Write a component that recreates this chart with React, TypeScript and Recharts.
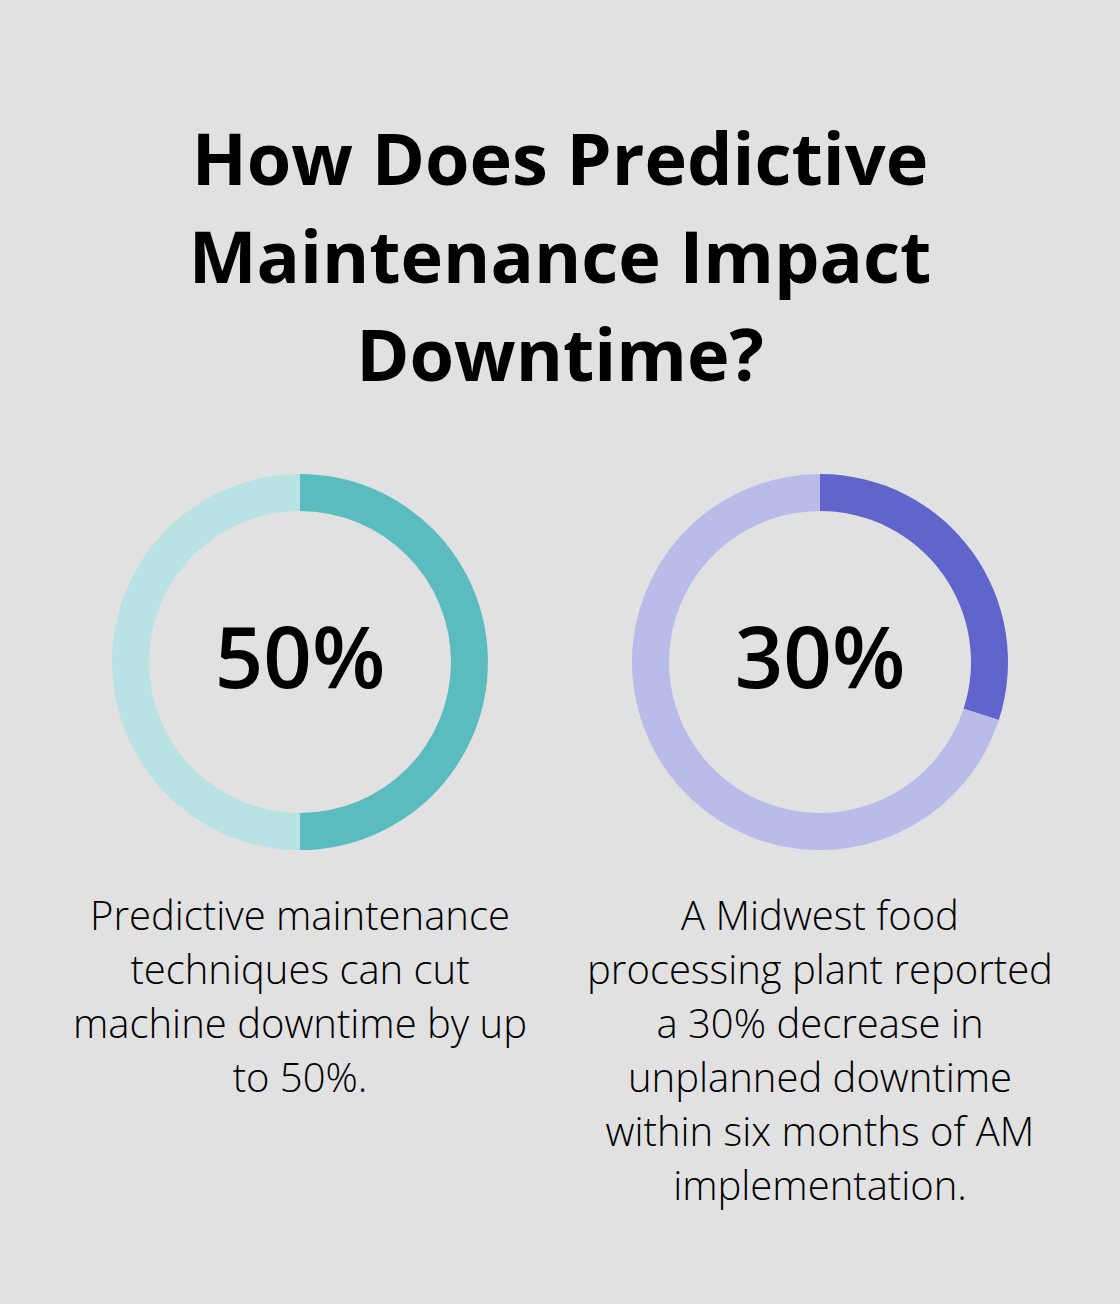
import React from 'react';
import { PieChart, Pie, Cell } from 'recharts';

const stats = ['50%', '30%'];
const reduced = [50, 30];
const remaining = [50, 70];
const darkColors = ['#5bbcbf', '#6065cc'];
const lightColors = ['#b8e2e4', '#b9bce9'];
const titleLines = ['How Does Predictive', 'Maintenance Impact', 'Downtime?'];
const captions = [
  ['Predictive maintenance', 'techniques can cut', 'machine downtime by up', 'to 50%.'],
  ['A Midwest food', 'processing plant reported', 'a 30% decrease in', 'unplanned downtime', 'within six months of AM', 'implementation.'],
];
const centersX = [300, 820];

const font = '"Open Sans", sans-serif';
const chartTop = 462;
const cy = 200;

const App: React.FC = () => {
  return (
    <div style={{ position: 'absolute', left: 0, top: 0, width: 1120, height: 1304, background: '#e0e1e0', fontFamily: font, color: '#000' }}>
      <div style={{ position: 'absolute', top: 108, left: 0, width: 1120, textAlign: 'center', fontWeight: 700, fontSize: 72, lineHeight: '98px' }}>
        {titleLines.map((l) => (
          <div key={l} style={{ whiteSpace: 'nowrap' }}>{l}</div>
        ))}
      </div>

      <div style={{ position: 'absolute', top: chartTop, left: 0 }}>
        <PieChart width={1120} height={400} margin={{ top: 0, right: 0, bottom: 0, left: 0 }}>
          {stats.map((s, i) => (
            <Pie
              key={s}
              data={[
                { name: 'reduced', value: reduced[i] },
                { name: 'rest', value: remaining[i] },
              ]}
              dataKey="value"
              cx={centersX[i]}
              cy={cy}
              innerRadius={151}
              outerRadius={188}
              startAngle={90}
              endAngle={-270}
              stroke="none"
              isAnimationActive={false}
            >
              <Cell fill={darkColors[i]} />
              <Cell fill={lightColors[i]} />
            </Pie>
          ))}
        </PieChart>
      </div>

      {stats.map((s, i) => (
        <div
          key={s}
          style={{
            position: 'absolute',
            left: centersX[i] - 150,
            top: chartTop + cy - 67,
            width: 300,
            height: 120,
            lineHeight: '120px',
            textAlign: 'center',
            fontSize: 85,
            fontWeight: 600,
          }}
        >
          {s}
        </div>
      ))}

      {captions.map((lines, i) => (
        <div
          key={i}
          style={{
            position: 'absolute',
            top: 888,
            left: centersX[i] - 260,
            width: 520,
            textAlign: 'center',
            fontWeight: 300,
            fontSize: 40,
            lineHeight: '54px',
          }}
        >
          {lines.map((l) => (
            <div key={l} style={{ whiteSpace: 'nowrap' }}>{l}</div>
          ))}
        </div>
      ))}
    </div>
  );
};

export default App;
